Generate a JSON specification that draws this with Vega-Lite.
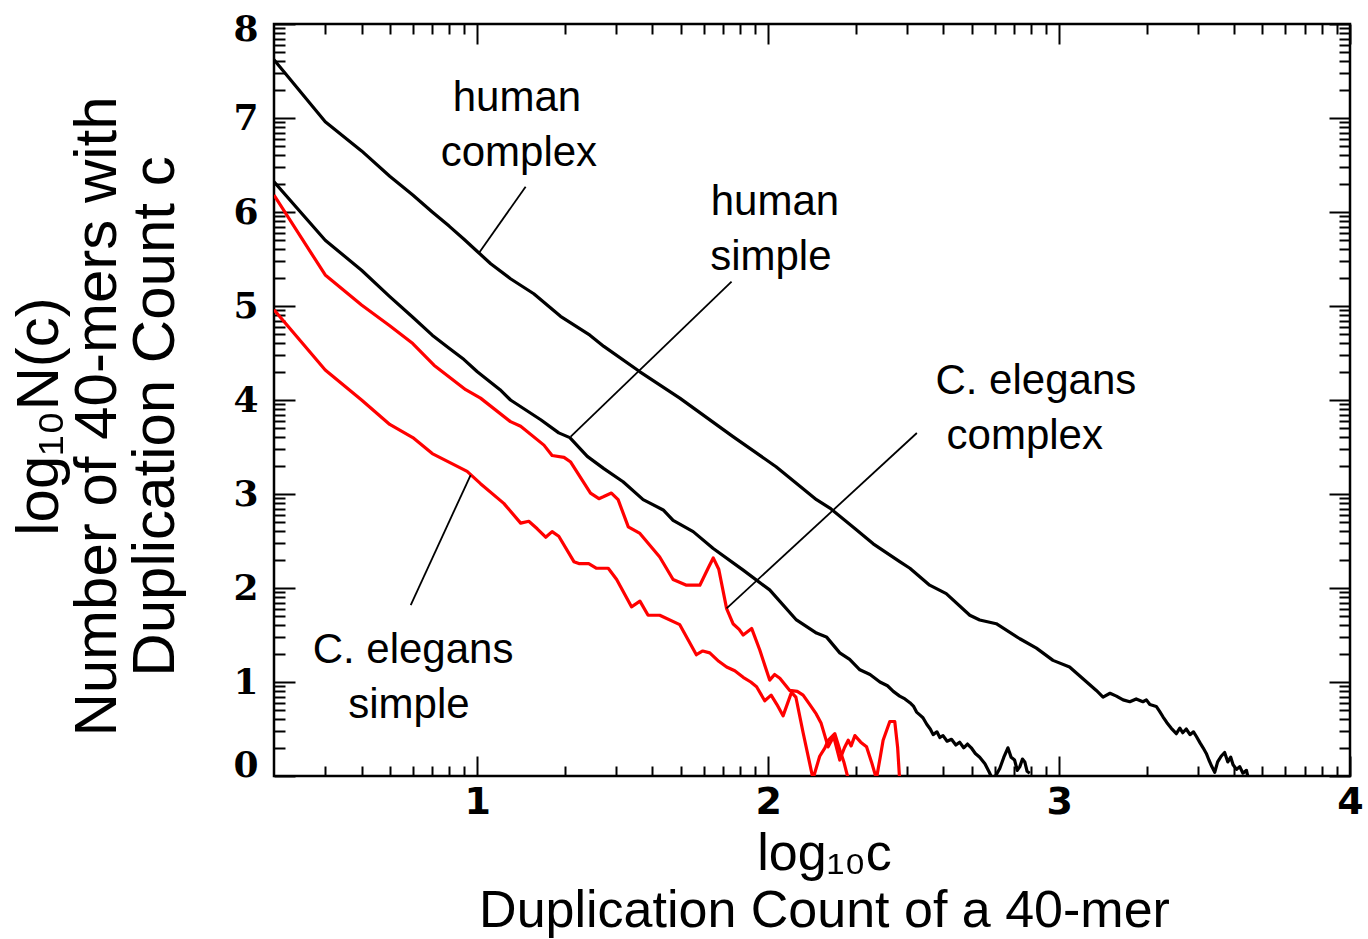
{
  "$schema": "https://vega.github.io/schema/vega-lite/v6.json",
  "width": 1076,
  "height": 752,
  "autosize": {"type": "none"},
  "padding": {"left": 274, "top": 24, "right": 18, "bottom": 163},
  "background": "white",
  "config": {
    "view": {"stroke": "black", "strokeWidth": 2.5},
    "axis": {"grid": false, "domain": false, "tickColor": "black", "tickWidth": 2, "labelColor": "black", "titleColor": "black", "labelOverlap": false, "labelBound": false, "labelFlush": false}
  },
  "datasets": {
    "curves": [
      {"series": "hc", "organism": "human", "logc": 0.30103, "logN": 7.62},
      {"series": "hc", "organism": "human", "logc": 0.47712, "logN": 6.96},
      {"series": "hc", "organism": "human", "logc": 0.60206, "logN": 6.65},
      {"series": "hc", "organism": "human", "logc": 0.69897, "logN": 6.38},
      {"series": "hc", "organism": "human", "logc": 0.77815, "logN": 6.18},
      {"series": "hc", "organism": "human", "logc": 0.8451, "logN": 6.0},
      {"series": "hc", "organism": "human", "logc": 0.90309, "logN": 5.85},
      {"series": "hc", "organism": "human", "logc": 0.95424, "logN": 5.71},
      {"series": "hc", "organism": "human", "logc": 1.0, "logN": 5.58},
      {"series": "hc", "organism": "human", "logc": 1.046, "logN": 5.45},
      {"series": "hc", "organism": "human", "logc": 1.114, "logN": 5.29},
      {"series": "hc", "organism": "human", "logc": 1.194, "logN": 5.13},
      {"series": "hc", "organism": "human", "logc": 1.286, "logN": 4.89},
      {"series": "hc", "organism": "human", "logc": 1.387, "logN": 4.69},
      {"series": "hc", "organism": "human", "logc": 1.435, "logN": 4.57},
      {"series": "hc", "organism": "human", "logc": 1.559, "logN": 4.3},
      {"series": "hc", "organism": "human", "logc": 1.696, "logN": 4.02},
      {"series": "hc", "organism": "human", "logc": 1.879, "logN": 3.61},
      {"series": "hc", "organism": "human", "logc": 2.027, "logN": 3.29},
      {"series": "hc", "organism": "human", "logc": 2.166, "logN": 2.94},
      {"series": "hc", "organism": "human", "logc": 2.212, "logN": 2.85},
      {"series": "hc", "organism": "human", "logc": 2.303, "logN": 2.62},
      {"series": "hc", "organism": "human", "logc": 2.361, "logN": 2.47},
      {"series": "hc", "organism": "human", "logc": 2.452, "logN": 2.28},
      {"series": "hc", "organism": "human", "logc": 2.487, "logN": 2.21},
      {"series": "hc", "organism": "human", "logc": 2.521, "logN": 2.12},
      {"series": "hc", "organism": "human", "logc": 2.555, "logN": 2.03},
      {"series": "hc", "organism": "human", "logc": 2.612, "logN": 1.94},
      {"series": "hc", "organism": "human", "logc": 2.693, "logN": 1.71},
      {"series": "hc", "organism": "human", "logc": 2.727, "logN": 1.66},
      {"series": "hc", "organism": "human", "logc": 2.784, "logN": 1.62},
      {"series": "hc", "organism": "human", "logc": 2.865, "logN": 1.46},
      {"series": "hc", "organism": "human", "logc": 2.922, "logN": 1.36},
      {"series": "hc", "organism": "human", "logc": 2.979, "logN": 1.23},
      {"series": "hc", "organism": "human", "logc": 3.036, "logN": 1.16},
      {"series": "hc", "organism": "human", "logc": 3.128, "logN": 0.91},
      {"series": "hc", "organism": "human", "logc": 3.151, "logN": 0.84},
      {"series": "hc", "organism": "human", "logc": 3.175, "logN": 0.88},
      {"series": "hc", "organism": "human", "logc": 3.197, "logN": 0.85},
      {"series": "hc", "organism": "human", "logc": 3.22, "logN": 0.81},
      {"series": "hc", "organism": "human", "logc": 3.243, "logN": 0.79},
      {"series": "hc", "organism": "human", "logc": 3.265, "logN": 0.82},
      {"series": "hc", "organism": "human", "logc": 3.288, "logN": 0.79},
      {"series": "hc", "organism": "human", "logc": 3.3, "logN": 0.81},
      {"series": "hc", "organism": "human", "logc": 3.312, "logN": 0.76},
      {"series": "hc", "organism": "human", "logc": 3.334, "logN": 0.74},
      {"series": "hc", "organism": "human", "logc": 3.345, "logN": 0.69},
      {"series": "hc", "organism": "human", "logc": 3.357, "logN": 0.63},
      {"series": "hc", "organism": "human", "logc": 3.37, "logN": 0.57},
      {"series": "hc", "organism": "human", "logc": 3.385, "logN": 0.51},
      {"series": "hc", "organism": "human", "logc": 3.403, "logN": 0.45},
      {"series": "hc", "organism": "human", "logc": 3.415, "logN": 0.51},
      {"series": "hc", "organism": "human", "logc": 3.425, "logN": 0.46},
      {"series": "hc", "organism": "human", "logc": 3.437, "logN": 0.5},
      {"series": "hc", "organism": "human", "logc": 3.45, "logN": 0.44},
      {"series": "hc", "organism": "human", "logc": 3.462, "logN": 0.47},
      {"series": "hc", "organism": "human", "logc": 3.472, "logN": 0.42},
      {"series": "hc", "organism": "human", "logc": 3.485, "logN": 0.35},
      {"series": "hc", "organism": "human", "logc": 3.495, "logN": 0.3},
      {"series": "hc", "organism": "human", "logc": 3.506, "logN": 0.24},
      {"series": "hc", "organism": "human", "logc": 3.515, "logN": 0.17},
      {"series": "hc", "organism": "human", "logc": 3.525, "logN": 0.1},
      {"series": "hc", "organism": "human", "logc": 3.535, "logN": 0.04},
      {"series": "hc", "organism": "human", "logc": 3.545, "logN": 0.15},
      {"series": "hc", "organism": "human", "logc": 3.557, "logN": 0.21},
      {"series": "hc", "organism": "human", "logc": 3.569, "logN": 0.25},
      {"series": "hc", "organism": "human", "logc": 3.58, "logN": 0.15},
      {"series": "hc", "organism": "human", "logc": 3.59, "logN": 0.2},
      {"series": "hc", "organism": "human", "logc": 3.598, "logN": 0.12},
      {"series": "hc", "organism": "human", "logc": 3.61, "logN": 0.07},
      {"series": "hc", "organism": "human", "logc": 3.621, "logN": 0.1},
      {"series": "hc", "organism": "human", "logc": 3.632, "logN": 0.03},
      {"series": "hc", "organism": "human", "logc": 3.644, "logN": 0.06},
      {"series": "hc", "organism": "human", "logc": 3.652, "logN": -0.05},

      {"series": "hs", "organism": "human", "logc": 0.30103, "logN": 6.32},
      {"series": "hs", "organism": "human", "logc": 0.47712, "logN": 5.7},
      {"series": "hs", "organism": "human", "logc": 0.60206, "logN": 5.38},
      {"series": "hs", "organism": "human", "logc": 0.69897, "logN": 5.1},
      {"series": "hs", "organism": "human", "logc": 0.77815, "logN": 4.88},
      {"series": "hs", "organism": "human", "logc": 0.8451, "logN": 4.69},
      {"series": "hs", "organism": "human", "logc": 0.90309, "logN": 4.55},
      {"series": "hs", "organism": "human", "logc": 0.95424, "logN": 4.43},
      {"series": "hs", "organism": "human", "logc": 1.0, "logN": 4.3},
      {"series": "hs", "organism": "human", "logc": 1.078, "logN": 4.11},
      {"series": "hs", "organism": "human", "logc": 1.114, "logN": 4.0},
      {"series": "hs", "organism": "human", "logc": 1.218, "logN": 3.79},
      {"series": "hs", "organism": "human", "logc": 1.28, "logN": 3.65},
      {"series": "hs", "organism": "human", "logc": 1.318, "logN": 3.6},
      {"series": "hs", "organism": "human", "logc": 1.378, "logN": 3.4},
      {"series": "hs", "organism": "human", "logc": 1.435, "logN": 3.27},
      {"series": "hs", "organism": "human", "logc": 1.501, "logN": 3.13},
      {"series": "hs", "organism": "human", "logc": 1.57, "logN": 2.94},
      {"series": "hs", "organism": "human", "logc": 1.639, "logN": 2.83},
      {"series": "hs", "organism": "human", "logc": 1.673, "logN": 2.72},
      {"series": "hs", "organism": "human", "logc": 1.742, "logN": 2.6},
      {"series": "hs", "organism": "human", "logc": 1.811, "logN": 2.42},
      {"series": "hs", "organism": "human", "logc": 1.914, "logN": 2.19},
      {"series": "hs", "organism": "human", "logc": 2.005, "logN": 1.98},
      {"series": "hs", "organism": "human", "logc": 2.097, "logN": 1.66},
      {"series": "hs", "organism": "human", "logc": 2.166, "logN": 1.52},
      {"series": "hs", "organism": "human", "logc": 2.2, "logN": 1.48},
      {"series": "hs", "organism": "human", "logc": 2.246, "logN": 1.31},
      {"series": "hs", "organism": "human", "logc": 2.28, "logN": 1.24},
      {"series": "hs", "organism": "human", "logc": 2.315, "logN": 1.13},
      {"series": "hs", "organism": "human", "logc": 2.35, "logN": 1.08},
      {"series": "hs", "organism": "human", "logc": 2.384, "logN": 1.0},
      {"series": "hs", "organism": "human", "logc": 2.41, "logN": 0.96},
      {"series": "hs", "organism": "human", "logc": 2.43, "logN": 0.9},
      {"series": "hs", "organism": "human", "logc": 2.452, "logN": 0.85},
      {"series": "hs", "organism": "human", "logc": 2.47, "logN": 0.82},
      {"series": "hs", "organism": "human", "logc": 2.487, "logN": 0.78},
      {"series": "hs", "organism": "human", "logc": 2.5, "logN": 0.74},
      {"series": "hs", "organism": "human", "logc": 2.51, "logN": 0.68},
      {"series": "hs", "organism": "human", "logc": 2.521, "logN": 0.65},
      {"series": "hs", "organism": "human", "logc": 2.532, "logN": 0.62},
      {"series": "hs", "organism": "human", "logc": 2.545, "logN": 0.55},
      {"series": "hs", "organism": "human", "logc": 2.557, "logN": 0.5},
      {"series": "hs", "organism": "human", "logc": 2.567, "logN": 0.44},
      {"series": "hs", "organism": "human", "logc": 2.58, "logN": 0.47},
      {"series": "hs", "organism": "human", "logc": 2.59, "logN": 0.41},
      {"series": "hs", "organism": "human", "logc": 2.601, "logN": 0.43},
      {"series": "hs", "organism": "human", "logc": 2.615, "logN": 0.37},
      {"series": "hs", "organism": "human", "logc": 2.63, "logN": 0.39},
      {"series": "hs", "organism": "human", "logc": 2.645, "logN": 0.33},
      {"series": "hs", "organism": "human", "logc": 2.658, "logN": 0.36},
      {"series": "hs", "organism": "human", "logc": 2.672, "logN": 0.3},
      {"series": "hs", "organism": "human", "logc": 2.685, "logN": 0.34},
      {"series": "hs", "organism": "human", "logc": 2.698, "logN": 0.3},
      {"series": "hs", "organism": "human", "logc": 2.712, "logN": 0.24},
      {"series": "hs", "organism": "human", "logc": 2.727, "logN": 0.2},
      {"series": "hs", "organism": "human", "logc": 2.745, "logN": 0.13},
      {"series": "hs", "organism": "human", "logc": 2.76, "logN": 0.04},
      {"series": "hs", "organism": "human", "logc": 2.773, "logN": -0.05},
      {"series": "hs", "organism": "human", "logc": 2.785, "logN": 0.02},
      {"series": "hs", "organism": "human", "logc": 2.796, "logN": 0.08},
      {"series": "hs", "organism": "human", "logc": 2.81, "logN": 0.2},
      {"series": "hs", "organism": "human", "logc": 2.824, "logN": 0.3},
      {"series": "hs", "organism": "human", "logc": 2.835, "logN": 0.2},
      {"series": "hs", "organism": "human", "logc": 2.847, "logN": 0.17},
      {"series": "hs", "organism": "human", "logc": 2.856, "logN": 0.06},
      {"series": "hs", "organism": "human", "logc": 2.865, "logN": 0.1},
      {"series": "hs", "organism": "human", "logc": 2.874, "logN": 0.18},
      {"series": "hs", "organism": "human", "logc": 2.882, "logN": 0.15},
      {"series": "hs", "organism": "human", "logc": 2.89, "logN": 0.05},
      {"series": "hs", "organism": "human", "logc": 2.899, "logN": 0.03},

      {"series": "cc", "organism": "C. elegans", "logc": 0.30103, "logN": 6.18},
      {"series": "cc", "organism": "C. elegans", "logc": 0.47712, "logN": 5.33},
      {"series": "cc", "organism": "C. elegans", "logc": 0.60206, "logN": 5.01},
      {"series": "cc", "organism": "C. elegans", "logc": 0.69897, "logN": 4.79},
      {"series": "cc", "organism": "C. elegans", "logc": 0.77815, "logN": 4.6},
      {"series": "cc", "organism": "C. elegans", "logc": 0.851, "logN": 4.37},
      {"series": "cc", "organism": "C. elegans", "logc": 0.96, "logN": 4.11},
      {"series": "cc", "organism": "C. elegans", "logc": 1.011, "logN": 4.02},
      {"series": "cc", "organism": "C. elegans", "logc": 1.114, "logN": 3.77},
      {"series": "cc", "organism": "C. elegans", "logc": 1.149, "logN": 3.72},
      {"series": "cc", "organism": "C. elegans", "logc": 1.229, "logN": 3.52},
      {"series": "cc", "organism": "C. elegans", "logc": 1.257, "logN": 3.41},
      {"series": "cc", "organism": "C. elegans", "logc": 1.298, "logN": 3.39},
      {"series": "cc", "organism": "C. elegans", "logc": 1.321, "logN": 3.34},
      {"series": "cc", "organism": "C. elegans", "logc": 1.389, "logN": 3.01},
      {"series": "cc", "organism": "C. elegans", "logc": 1.418, "logN": 2.95},
      {"series": "cc", "organism": "C. elegans", "logc": 1.433, "logN": 2.97},
      {"series": "cc", "organism": "C. elegans", "logc": 1.461, "logN": 3.01},
      {"series": "cc", "organism": "C. elegans", "logc": 1.484, "logN": 2.94},
      {"series": "cc", "organism": "C. elegans", "logc": 1.519, "logN": 2.65},
      {"series": "cc", "organism": "C. elegans", "logc": 1.559, "logN": 2.58},
      {"series": "cc", "organism": "C. elegans", "logc": 1.627, "logN": 2.33},
      {"series": "cc", "organism": "C. elegans", "logc": 1.673, "logN": 2.09},
      {"series": "cc", "organism": "C. elegans", "logc": 1.719, "logN": 2.03},
      {"series": "cc", "organism": "C. elegans", "logc": 1.765, "logN": 2.03},
      {"series": "cc", "organism": "C. elegans", "logc": 1.795, "logN": 2.22},
      {"series": "cc", "organism": "C. elegans", "logc": 1.811, "logN": 2.32},
      {"series": "cc", "organism": "C. elegans", "logc": 1.83, "logN": 2.2},
      {"series": "cc", "organism": "C. elegans", "logc": 1.857, "logN": 1.78},
      {"series": "cc", "organism": "C. elegans", "logc": 1.879, "logN": 1.62},
      {"series": "cc", "organism": "C. elegans", "logc": 1.9, "logN": 1.56},
      {"series": "cc", "organism": "C. elegans", "logc": 1.914, "logN": 1.5},
      {"series": "cc", "organism": "C. elegans", "logc": 1.943, "logN": 1.57},
      {"series": "cc", "organism": "C. elegans", "logc": 1.971, "logN": 1.34},
      {"series": "cc", "organism": "C. elegans", "logc": 2.005, "logN": 1.02},
      {"series": "cc", "organism": "C. elegans", "logc": 2.022, "logN": 1.08},
      {"series": "cc", "organism": "C. elegans", "logc": 2.04, "logN": 1.04},
      {"series": "cc", "organism": "C. elegans", "logc": 2.074, "logN": 0.91},
      {"series": "cc", "organism": "C. elegans", "logc": 2.1, "logN": 0.9},
      {"series": "cc", "organism": "C. elegans", "logc": 2.12, "logN": 0.86},
      {"series": "cc", "organism": "C. elegans", "logc": 2.143, "logN": 0.76},
      {"series": "cc", "organism": "C. elegans", "logc": 2.165, "logN": 0.66},
      {"series": "cc", "organism": "C. elegans", "logc": 2.182, "logN": 0.56},
      {"series": "cc", "organism": "C. elegans", "logc": 2.206, "logN": 0.31},
      {"series": "cc", "organism": "C. elegans", "logc": 2.225, "logN": 0.42},
      {"series": "cc", "organism": "C. elegans", "logc": 2.246, "logN": 0.17},
      {"series": "cc", "organism": "C. elegans", "logc": 2.262, "logN": 0.3},
      {"series": "cc", "organism": "C. elegans", "logc": 2.275, "logN": 0.38},
      {"series": "cc", "organism": "C. elegans", "logc": 2.285, "logN": 0.32},
      {"series": "cc", "organism": "C. elegans", "logc": 2.298, "logN": 0.43},
      {"series": "cc", "organism": "C. elegans", "logc": 2.318, "logN": 0.36},
      {"series": "cc", "organism": "C. elegans", "logc": 2.338, "logN": 0.31},
      {"series": "cc", "organism": "C. elegans", "logc": 2.355, "logN": 0.15},
      {"series": "cc", "organism": "C. elegans", "logc": 2.372, "logN": -0.03},
      {"series": "cc", "organism": "C. elegans", "logc": 2.385, "logN": 0.2},
      {"series": "cc", "organism": "C. elegans", "logc": 2.395, "logN": 0.38},
      {"series": "cc", "organism": "C. elegans", "logc": 2.418, "logN": 0.58},
      {"series": "cc", "organism": "C. elegans", "logc": 2.435, "logN": 0.58},
      {"series": "cc", "organism": "C. elegans", "logc": 2.445, "logN": 0.3},
      {"series": "cc", "organism": "C. elegans", "logc": 2.452, "logN": -0.05},

      {"series": "cs", "organism": "C. elegans", "logc": 0.30103, "logN": 4.96},
      {"series": "cs", "organism": "C. elegans", "logc": 0.47712, "logN": 4.32},
      {"series": "cs", "organism": "C. elegans", "logc": 0.60206, "logN": 4.0},
      {"series": "cs", "organism": "C. elegans", "logc": 0.69897, "logN": 3.74},
      {"series": "cs", "organism": "C. elegans", "logc": 0.77815, "logN": 3.6},
      {"series": "cs", "organism": "C. elegans", "logc": 0.8451, "logN": 3.43},
      {"series": "cs", "organism": "C. elegans", "logc": 0.965, "logN": 3.24},
      {"series": "cs", "organism": "C. elegans", "logc": 1.011, "logN": 3.11},
      {"series": "cs", "organism": "C. elegans", "logc": 1.091, "logN": 2.9},
      {"series": "cs", "organism": "C. elegans", "logc": 1.149, "logN": 2.69},
      {"series": "cs", "organism": "C. elegans", "logc": 1.177, "logN": 2.71},
      {"series": "cs", "organism": "C. elegans", "logc": 1.206, "logN": 2.63},
      {"series": "cs", "organism": "C. elegans", "logc": 1.235, "logN": 2.54},
      {"series": "cs", "organism": "C. elegans", "logc": 1.257, "logN": 2.6},
      {"series": "cs", "organism": "C. elegans", "logc": 1.28, "logN": 2.55},
      {"series": "cs", "organism": "C. elegans", "logc": 1.332, "logN": 2.28},
      {"series": "cs", "organism": "C. elegans", "logc": 1.349, "logN": 2.26},
      {"series": "cs", "organism": "C. elegans", "logc": 1.383, "logN": 2.26},
      {"series": "cs", "organism": "C. elegans", "logc": 1.41, "logN": 2.21},
      {"series": "cs", "organism": "C. elegans", "logc": 1.45, "logN": 2.21},
      {"series": "cs", "organism": "C. elegans", "logc": 1.479, "logN": 2.09},
      {"series": "cs", "organism": "C. elegans", "logc": 1.53, "logN": 1.8},
      {"series": "cs", "organism": "C. elegans", "logc": 1.559, "logN": 1.86},
      {"series": "cs", "organism": "C. elegans", "logc": 1.587, "logN": 1.71},
      {"series": "cs", "organism": "C. elegans", "logc": 1.627, "logN": 1.71},
      {"series": "cs", "organism": "C. elegans", "logc": 1.696, "logN": 1.61},
      {"series": "cs", "organism": "C. elegans", "logc": 1.753, "logN": 1.29},
      {"series": "cs", "organism": "C. elegans", "logc": 1.775, "logN": 1.33},
      {"series": "cs", "organism": "C. elegans", "logc": 1.799, "logN": 1.31},
      {"series": "cs", "organism": "C. elegans", "logc": 1.83, "logN": 1.22},
      {"series": "cs", "organism": "C. elegans", "logc": 1.857, "logN": 1.16},
      {"series": "cs", "organism": "C. elegans", "logc": 1.885, "logN": 1.12},
      {"series": "cs", "organism": "C. elegans", "logc": 1.914, "logN": 1.05},
      {"series": "cs", "organism": "C. elegans", "logc": 1.94, "logN": 1.0},
      {"series": "cs", "organism": "C. elegans", "logc": 1.96, "logN": 0.95},
      {"series": "cs", "organism": "C. elegans", "logc": 1.988, "logN": 0.8},
      {"series": "cs", "organism": "C. elegans", "logc": 2.01, "logN": 0.86},
      {"series": "cs", "organism": "C. elegans", "logc": 2.03, "logN": 0.76},
      {"series": "cs", "organism": "C. elegans", "logc": 2.051, "logN": 0.64},
      {"series": "cs", "organism": "C. elegans", "logc": 2.08, "logN": 0.89},
      {"series": "cs", "organism": "C. elegans", "logc": 2.095, "logN": 0.84},
      {"series": "cs", "organism": "C. elegans", "logc": 2.12, "logN": 0.46},
      {"series": "cs", "organism": "C. elegans", "logc": 2.154, "logN": -0.03},
      {"series": "cs", "organism": "C. elegans", "logc": 2.177, "logN": 0.21},
      {"series": "cs", "organism": "C. elegans", "logc": 2.195, "logN": 0.3},
      {"series": "cs", "organism": "C. elegans", "logc": 2.206, "logN": 0.38},
      {"series": "cs", "organism": "C. elegans", "logc": 2.229, "logN": 0.45},
      {"series": "cs", "organism": "C. elegans", "logc": 2.246, "logN": 0.28},
      {"series": "cs", "organism": "C. elegans", "logc": 2.26, "logN": 0.15},
      {"series": "cs", "organism": "C. elegans", "logc": 2.275, "logN": -0.03}
    ],
    "leaders": [
      {"name": "human complex", "x1": 1.166, "y1": 6.269, "x2": 1.005, "y2": 5.561},
      {"name": "human simple", "x1": 1.874, "y1": 5.259, "x2": 1.321, "y2": 3.61},
      {"name": "C. elegans complex", "x1": 2.511, "y1": 3.649, "x2": 1.857, "y2": 1.784},
      {"name": "C. elegans simple", "x1": 0.977, "y1": 3.202, "x2": 0.771, "y2": 1.819}
    ],
    "notes": [
      {"text": "human", "x": 1.136, "y": 7.218},
      {"text": "complex", "x": 1.143, "y": 6.628},
      {"text": "human", "x": 2.023, "y": 6.106},
      {"text": "simple", "x": 2.009, "y": 5.52},
      {"text": "C. elegans", "x": 2.92, "y": 4.202},
      {"text": "complex", "x": 2.882, "y": 3.617},
      {"text": "C. elegans", "x": 0.779, "y": 1.34},
      {"text": "simple", "x": 0.765, "y": 0.755}
    ]
  },
  "layer": [
    {
      "data": {"name": "curves"},
      "mark": {"type": "line", "clip": true, "strokeWidth": 3.2, "strokeJoin": "round"},
      "encoding": {
        "x": {
          "field": "logc", "type": "quantitative",
          "scale": {"domain": [0.30103, 4], "nice": false, "zero": false},
          "axis": {
            "orient": "bottom",
            "values": [0.47712,0.60206,0.69897,0.77815,0.8451,0.90309,0.95424,1,1.30103,1.47712,1.60206,1.69897,1.77815,1.8451,1.90309,1.95424,2,2.30103,2.47712,2.60206,2.69897,2.77815,2.8451,2.90309,2.95424,3,3.30103,3.47712,3.60206,3.69897,3.77815,3.8451,3.90309,3.95424,4],
            "tickSize": {"condition": {"test": "abs(datum.value - round(datum.value)) < 0.001", "value": -20}, "value": -10},
            "labelExpr": "abs(datum.value - round(datum.value)) < 0.001 ? format(round(datum.value), 'd') : ''",
            "labelPadding": 27,
            "labelFont": "DejaVu Sans", "labelFontWeight": "bold", "labelFontSize": 38,
            "title": ["log₁₀c", "Duplication Count of a 40-mer"],
            "titleFont": "Liberation Sans", "titleFontWeight": "normal", "titleFontSize": 52,
            "titleLineHeight": 57, "titleBaseline": "top", "titleY": 52, "titleX": 550
          }
        },
        "y": {
          "field": "logN", "type": "quantitative",
          "scale": {"domain": [0, 8], "nice": false},
          "axis": {
            "orient": "left",
            "values": [0,0.30103,0.47712,0.60206,0.69897,0.77815,0.8451,0.90309,0.95424,1,1.30103,1.47712,1.60206,1.69897,1.77815,1.8451,1.90309,1.95424,2,2.30103,2.47712,2.60206,2.69897,2.77815,2.8451,2.90309,2.95424,3,3.30103,3.47712,3.60206,3.69897,3.77815,3.8451,3.90309,3.95424,4,4.30103,4.47712,4.60206,4.69897,4.77815,4.8451,4.90309,4.95424,5,5.30103,5.47712,5.60206,5.69897,5.77815,5.8451,5.90309,5.95424,6,6.30103,6.47712,6.60206,6.69897,6.77815,6.8451,6.90309,6.95424,7,7.30103,7.47712,7.60206,7.69897,7.77815,7.8451,7.90309,7.95424,8],
            "tickSize": {"condition": {"test": "abs(datum.value - round(datum.value)) < 0.001", "value": -21}, "value": -11},
            "labelExpr": "abs(datum.value - round(datum.value)) < 0.001 ? format(round(datum.value), 'd') : ''",
            "labelPadding": 37,
            "labelOffset": {"condition": [{"test": "datum.value == 0", "value": -11}, {"test": "datum.value == 8", "value": 5}], "value": 0},
            "labelFont": "DejaVu Serif", "labelFontWeight": "bold", "labelFontSize": 36,
            "title": ["log₁₀N(c)", "Number of 40-mers with", "Duplication Count c"],
            "titleFont": "Liberation Sans", "titleFontWeight": "normal", "titleFontSize": 60,
            "titleLineHeight": 58, "titleAngle": -90, "titleAlign": "center", "titleBaseline": "bottom",
            "titleX": -204, "titleY": 392
          }
        },
        "color": {"field": "organism", "type": "nominal", "scale": {"domain": ["human", "C. elegans"], "range": ["#000000", "#ff0000"]}, "legend": null},
        "detail": {"field": "series"}
      }
    },
    {
      "data": {"name": "leaders"},
      "mark": {"type": "rule", "color": "black", "strokeWidth": 1.8},
      "encoding": {
        "x": {"field": "x1", "type": "quantitative", "axis": null},
        "y": {"field": "y1", "type": "quantitative", "axis": null},
        "x2": {"field": "x2"},
        "y2": {"field": "y2"}
      }
    },
    {
      "data": {"name": "notes"},
      "mark": {"type": "text", "font": "Liberation Sans", "fontSize": 42, "align": "center", "baseline": "middle", "color": "black"},
      "encoding": {
        "x": {"field": "x", "type": "quantitative", "axis": null},
        "y": {"field": "y", "type": "quantitative", "axis": null},
        "text": {"field": "text"}
      }
    },
    {
      "data": {"name": "leaders"},
      "mark": {"type": "point", "opacity": 0},
      "encoding": {
        "x": {
          "field": "x1", "type": "quantitative",
          "axis": {
            "orient": "top", "labels": false, "title": null,
            "values": [0.47712,0.60206,0.69897,0.77815,0.8451,0.90309,0.95424,1,1.30103,1.47712,1.60206,1.69897,1.77815,1.8451,1.90309,1.95424,2,2.30103,2.47712,2.60206,2.69897,2.77815,2.8451,2.90309,2.95424,3,3.30103,3.47712,3.60206,3.69897,3.77815,3.8451,3.90309,3.95424,4],
            "tickSize": {"condition": {"test": "abs(datum.value - round(datum.value)) < 0.001", "value": -20}, "value": -10}
          }
        },
        "y": {
          "field": "y1", "type": "quantitative",
          "axis": {
            "orient": "right", "labels": false, "title": null,
            "values": [0,0.30103,0.47712,0.60206,0.69897,0.77815,0.8451,0.90309,0.95424,1,1.30103,1.47712,1.60206,1.69897,1.77815,1.8451,1.90309,1.95424,2,2.30103,2.47712,2.60206,2.69897,2.77815,2.8451,2.90309,2.95424,3,3.30103,3.47712,3.60206,3.69897,3.77815,3.8451,3.90309,3.95424,4,4.30103,4.47712,4.60206,4.69897,4.77815,4.8451,4.90309,4.95424,5,5.30103,5.47712,5.60206,5.69897,5.77815,5.8451,5.90309,5.95424,6,6.30103,6.47712,6.60206,6.69897,6.77815,6.8451,6.90309,6.95424,7,7.30103,7.47712,7.60206,7.69897,7.77815,7.8451,7.90309,7.95424,8],
            "tickSize": {"condition": {"test": "abs(datum.value - round(datum.value)) < 0.001", "value": -21}, "value": -11}
          }
        }
      }
    }
  ],
  "resolve": {"axis": {"x": "independent", "y": "independent"}}
}
